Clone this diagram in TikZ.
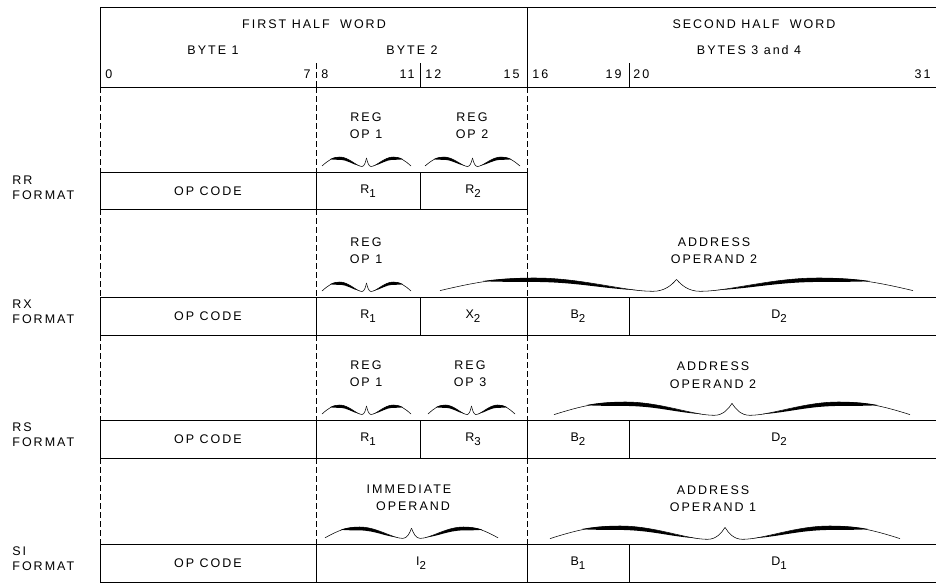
\documentclass[tikz,border=0pt]{standalone}
\usepackage{fontspec}
\setmainfont{Liberation Sans}[LetterSpace=16]
\newcommand\sbs[1]{\raisebox{-4.5pt}{\fontsize{11.5}{12}\selectfont #1}}
\newcommand\wbrace[5]{% name x1 x2 ybase height
  \pgfmathsetmacro\bmid{(#2+#3)/2}
  \pgfmathsetmacro\bhw{(#3-#2)/2}
  \coordinate (#1) at (\bmid,#4);
  \begin{scope}[shift={(#1)}, xscale=\bhw, yscale=-#5]
    \foreach \s in {1,-1}{
      \begin{scope}[xscale=\s]
        \draw[line width=0.55pt] (-1,0.1) .. controls (-0.85,0.7) and (-0.75,1) .. (-0.6,1)
          .. controls (-0.4,1) and (-0.22,0.05) .. (-0.1,0.05)
          .. controls (-0.05,0.05) and (-0.02,0.5) .. (0,0.9);
        \fill (-0.82,0.78) .. controls (-0.74,0.97) and (-0.68,1.0) .. (-0.6,1.0)
          .. controls (-0.42,1.0) and (-0.29,0.3) .. (-0.16,0.12)
          .. controls (-0.32,0.25) and (-0.42,0.7) .. (-0.6,0.72)
          .. controls (-0.7,0.73) and (-0.77,0.72) .. (-0.82,0.78) -- cycle;
      \end{scope}
    }
  \end{scope}
}
\begin{document}
\begin{tikzpicture}[x=1pt,y=-1pt,line width=0.75pt,
  lbl/.style={font=\fontsize{12.5}{15}\selectfont, inner sep=0pt, anchor=center},
  rowlbl/.style={font=\fontsize{12.5}{15}\selectfont, inner sep=0pt, anchor=west, align=left},
  dsh/.style={line width=0.7pt, dash pattern=on 6pt off 3pt}]
\useasboundingbox (0,0) rectangle (936,584);

% ---------- header ----------
\draw (100,7) -- (936,7);
\draw (100,87) -- (936,87);
\draw (100,7) -- (100,87);
\draw (527,7) -- (527,87);
\draw[dsh] (316,63) -- (316,87);
\draw (420,63) -- (420,87);
\draw (629,63) -- (629,87);

\node[lbl] (fhw) at (314,24) {FIRST HALF\hspace{5pt} WORD};
\node[lbl] (shw) at (754,24) {SECOND HALF\hspace{5pt} WORD};
\node[lbl] (b1) at (213,50) {BYTE 1};
\node[lbl] (b2) at (412,50) {BYTE 2};
\node[lbl] (b34) at (749,50) {BYTES 3 and 4};
\node[lbl,anchor=west] (n0) at (105,74) {0};
\node[lbl,anchor=east] (n7) at (311,74) {7};
\node[lbl,anchor=west] (n8) at (321,74) {8};
\node[lbl,anchor=east] (n11) at (415,74) {11};
\node[lbl,anchor=west] (n12) at (425,74) {12};
\node[lbl,anchor=east] (n15) at (520,74) {15};
\node[lbl,anchor=west] (n16) at (532,74) {16};
\node[lbl,anchor=east] (n19) at (622,74) {19};
\node[lbl,anchor=west] (n20) at (633,74) {20};
\node[lbl,anchor=east] (n31) at (931,74) {31};

% ---------- dashed guides in annotation bands ----------
\foreach \ya/\yb in {87/172, 209/297, 335/420, 458/544}{
  \draw[dsh] (100,\ya) -- (100,\yb);
  \draw[dsh] (316,\ya) -- (316,\yb);
  \draw[dsh] (527,\ya) -- (527,\yb);
}

% ---------- RR ----------
\draw (100,172) rectangle (527,209);
\draw (316,172) -- (316,209);
\draw (420,172) -- (420,209);
\node[rowlbl] (rrl) at (12,188) {RR\\FORMAT};
\node[lbl] (rrop) at (208,191) {OP CODE};
\node[lbl] (rrr1) at (368,191) {R\sbs{1}};
\node[lbl] (rrr2) at (473,191) {R\sbs{2}};
\node[lbl] (rrt1) at (366,117) {REG};
\node[lbl] (rrt2) at (366,134) {OP 1};
\node[lbl] (rrt3) at (472,117) {REG};
\node[lbl] (rrt4) at (472,134) {OP 2};
\wbrace{rrb1}{322}{411}{167}{10}
\wbrace{rrb2}{425}{520}{167}{10}

% ---------- RX ----------
\draw (100,297) -- (936,297);
\draw (100,335) -- (936,335);
\foreach \x in {100,316,420,527,629} \draw (\x,297) -- (\x,335);
\node[rowlbl] (rxl) at (12,312) {RX\\FORMAT};
\node[lbl] (rxop) at (208,316) {OP CODE};
\node[lbl] (rxr1) at (368,316) {R\sbs{1}};
\node[lbl] (rxx2) at (473,316) {X\sbs{2}};
\node[lbl] (rxb2) at (578,316) {B\sbs{2}};
\node[lbl] (rxd2) at (779,316) {D\sbs{2}};
\node[lbl] (rxt1) at (366,242) {REG};
\node[lbl] (rxt2) at (366,259) {OP 1};
\node[lbl] (rxt3) at (714,242) {ADDRESS};
\node[lbl] (rxt4) at (714,259) {OPERAND 2};
\wbrace{rxb1}{322}{411}{292}{10}
\wbrace{rxb2}{440}{913}{292}{14}

% ---------- RS ----------
\draw (100,420) -- (936,420);
\draw (100,458) -- (936,458);
\foreach \x in {100,316,420,527,629} \draw (\x,420) -- (\x,458);
\node[rowlbl] (rsl) at (12,435) {RS\\FORMAT};
\node[lbl] (rsop) at (208,439) {OP CODE};
\node[lbl] (rsr1) at (368,439) {R\sbs{1}};
\node[lbl] (rsr3) at (473,439) {R\sbs{3}};
\node[lbl] (rsb2) at (578,439) {B\sbs{2}};
\node[lbl] (rsd2) at (779,439) {D\sbs{2}};
\node[lbl] (rst1) at (366,365) {REG};
\node[lbl] (rst2) at (366,382) {OP 1};
\node[lbl] (rst3) at (470,365) {REG};
\node[lbl] (rst4) at (470,382) {OP 3};
\node[lbl] (rst5) at (713,366) {ADDRESS};
\node[lbl] (rst6) at (713,384) {OPERAND 2};
\wbrace{rsb1}{322}{411}{415}{10}
\wbrace{rsb2}{428}{515}{415}{10}
\wbrace{rsb3}{554}{910}{416}{14}

% ---------- SI ----------
\draw (100,544) -- (936,544);
\draw (100,582) -- (936,582);
\foreach \x in {100,316,527,629} \draw (\x,544) -- (\x,582);
\node[rowlbl] (sil) at (12,559) {SI\\FORMAT};
\node[lbl] (siop) at (208,563) {OP CODE};
\node[lbl] (sii2) at (421,563) {I\sbs{2}};
\node[lbl] (sib1) at (578,563) {B\sbs{1}};
\node[lbl] (sid1) at (779,563) {D\sbs{1}};
\node[lbl] (sit1) at (409,489) {IMMEDIATE};
\node[lbl] (sit2) at (413,506) {OPERAND};
\node[lbl] (sit3) at (713,490) {ADDRESS};
\node[lbl] (sit4) at (713,507) {OPERAND 1};
\wbrace{sib1b}{325}{498}{539}{12}
\wbrace{sib2b}{550}{900}{540}{14}
\end{tikzpicture}
\end{document}
